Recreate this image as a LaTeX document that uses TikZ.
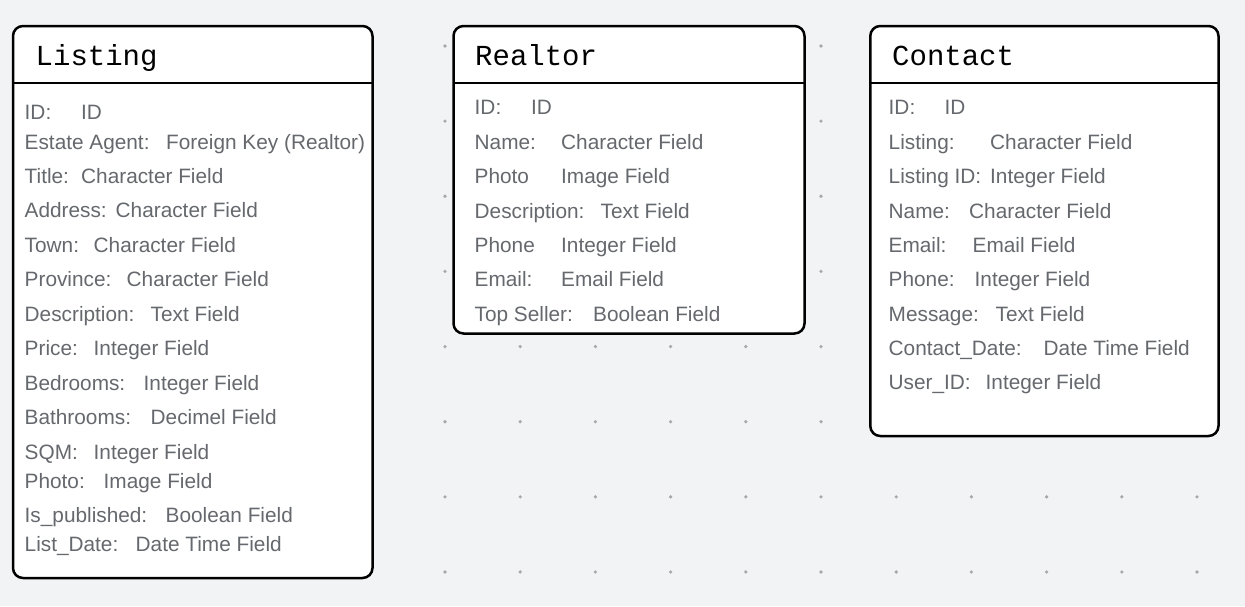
\documentclass[tikz,border=0pt]{standalone}
\usepackage{fontspec}
\setmainfont{Liberation Sans}
\newfontfamily\titlefont{Liberation Mono}
\definecolor{bg}{HTML}{F2F3F5}
\definecolor{fieldgray}{HTML}{65686D}
\definecolor{dotgray}{HTML}{A8A8A8}
\newcommand\frow[6]{%
  \node[fld] (#1a) at (#2,#4) {#5};
  \node[fld] (#1b) at (#3,#4) {#6};}
\begin{document}
\begin{tikzpicture}[x=1pt,y=-1pt,
  tbl/.style={draw=black, line width=2.5pt, fill=white, rounded corners=10pt,
    anchor=north west, inner sep=0pt, outer sep=0pt},
  ttl/.style={anchor=base west, inner sep=0pt, font=\titlefont\fontsize{29}{31}\selectfont, text=black},
  fld/.style={anchor=base west, inner sep=0pt, font=\fontsize{20.8}{22}\selectfont, text=fieldgray},
  hdr/.style={line width=2.5pt, draw=black}]
\fill[bg] (0,0) rectangle (1245,606);
\useasboundingbox (0,0) rectangle (1245,606);
% dot grid
\foreach \k in {-5,...,10}{
  \foreach \j in {0,...,7}{
    \fill[dotgray] (445+\k*75.2, 46+\j*75.14) circle (1.8);
  }
}
% tables
\node[tbl, minimum width=359.5pt, minimum height=552pt] (L) at (13,26) {};
\node[tbl, minimum width=351pt, minimum height=307.5pt] (R) at (453.5,26) {};
\node[tbl, minimum width=348.2pt, minimum height=410pt] (C) at (870.3,26) {};
\draw[hdr] ([yshift=-57pt]L.north west) -- ([yshift=-57pt]L.north east);
\draw[hdr] ([yshift=-57pt]R.north west) -- ([yshift=-57pt]R.north east);
\draw[hdr] ([yshift=-57pt]C.north west) -- ([yshift=-57pt]C.north east);
% titles
\node[ttl] (Lt) at (35.5,65.5) {Listing};
\node[ttl] (Rt) at (475,65.5) {Realtor};
\node[ttl] (Ct) at (892,65.5) {Contact};
% Listing fields
\frow{L1}{24.5}{81}{119.5}{ID:}{ID}
\frow{L2}{24.5}{166}{149.5}{Estate Agent:}{Foreign Key (Realtor)}
\frow{L3}{24.5}{81}{183.5}{Title:}{Character Field}
\frow{L4}{24.5}{115.5}{217.5}{Address:}{Character Field}
\frow{L5}{24.5}{93.5}{252.5}{Town:}{Character Field}
\frow{L6}{24.5}{126.5}{286.5}{Province:}{Character Field}
\frow{L7}{24.5}{150.5}{321.5}{Description:}{Text Field}
\frow{L8}{24.5}{93.5}{355.5}{Price:}{Integer Field}
\frow{L9}{24.5}{143.5}{390.5}{Bedrooms:}{Integer Field}
\frow{L10}{24.5}{150.5}{424.5}{Bathrooms:}{Decimel Field}
\frow{L11}{24.5}{93.5}{459.5}{SQM:}{Integer Field}
\frow{L12}{24.5}{103.5}{488}{Photo:}{Image Field}
\frow{L13}{24.5}{165.5}{522.5}{Is\_published:}{Boolean Field}
\frow{L14}{24.5}{135.5}{551.5}{List\_Date:}{Date Time Field}
% Realtor fields
\frow{R1}{474.5}{531}{114.5}{ID:}{ID}
\frow{R2}{474.5}{561}{149}{Name:}{Character Field}
\frow{R3}{474.5}{561}{183.5}{Photo}{Image Field}
\frow{R4}{474.5}{600.5}{218}{Description:}{Text Field}
\frow{R5}{474.5}{561}{252.5}{Phone}{Integer Field}
\frow{R6}{474.5}{561}{286.5}{Email:}{Email Field}
\frow{R7}{474.5}{593}{321}{Top Seller:}{Boolean Field}
% Contact fields
\frow{C1}{888.5}{944.5}{114.5}{ID:}{ID}
\frow{C2}{888.5}{990}{149}{Listing:}{Character Field}
\frow{C3}{888.5}{990}{183.5}{Listing ID:}{Integer Field}
\frow{C4}{888.5}{969}{218}{Name:}{Character Field}
\frow{C5}{888.5}{972.5}{252.5}{Email:}{Email Field}
\frow{C6}{888.5}{974.5}{286.5}{Phone:}{Integer Field}
\frow{C7}{888.5}{995.5}{321}{Message:}{Text Field}
\frow{C8}{888.5}{1043.5}{355}{Contact\_Date:}{Date Time Field}
\frow{C9}{888.5}{985.5}{389.5}{User\_ID:}{Integer Field}
\end{tikzpicture}
\end{document}
